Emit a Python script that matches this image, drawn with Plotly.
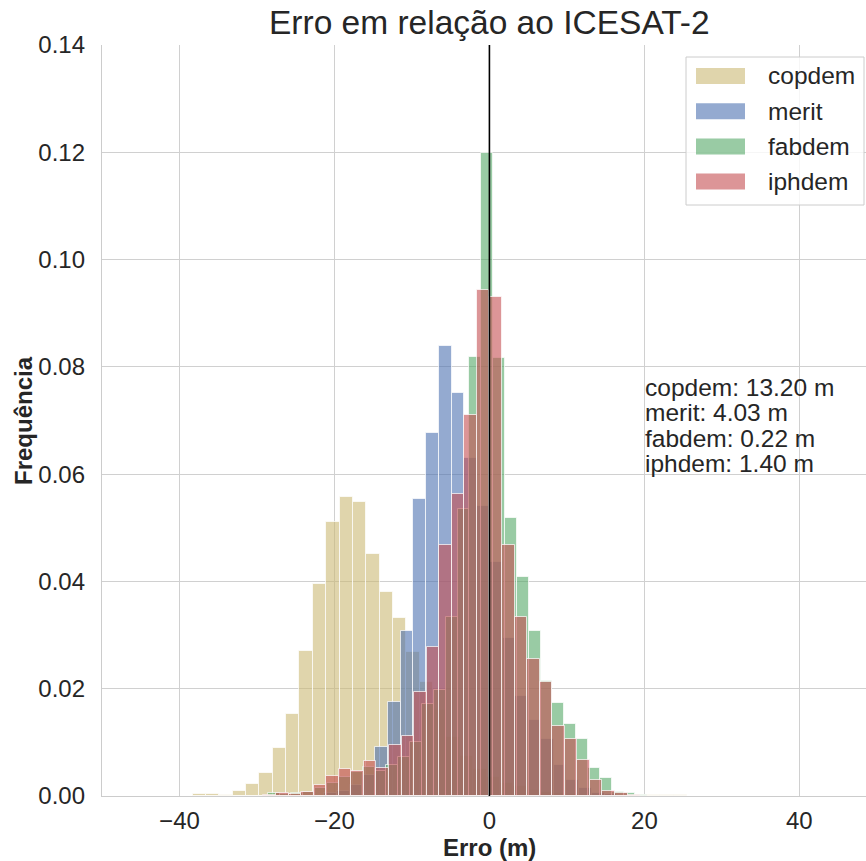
import numpy as np
import plotly.graph_objects as go

# ---------------- data ----------------
series_names = ["copdem", "merit", "fabdem", "iphdem"]
series_colors = ["#CCB974", "#4C72B0", "#55A868", "#C44E52"]

# histogram bins: first left edge and bin width per series
copdem_start, copdem_width = -38.32, 1.725
copdem_freq = [0.0004, 0.0004, 0.0001, 0.0009, 0.0023, 0.0043, 0.0089, 0.0152,
               0.0270, 0.0396, 0.0510, 0.0558, 0.0548, 0.0452, 0.0380, 0.0332,
               0.0268, 0.0212, 0.0160, 0.0110, 0.0075, 0.0050, 0.0035, 0.0025,
               0.0018, 0.0012, 0.0008, 0.0005, 0.0003, 0.0002, 0.0002, 0.0001,
               0.0001, 0.0001, 0.0001, 0.0001, 0.0001]

merit_start, merit_width = -21.33, 1.645
merit_freq = [0.0005, 0.0010, 0.0020, 0.0040, 0.0092, 0.0176, 0.0307, 0.0553,
              0.0677, 0.0839, 0.0751, 0.0630, 0.0540, 0.0437, 0.0295, 0.0186,
              0.0141, 0.0106, 0.0058, 0.0030, 0.0015, 0.0006, 0.0003]

fabdem_start, fabdem_width = -28.61, 1.531
fabdem_freq = [0.0005, 0.0003, 0.0005, 0.0008, 0.0015, 0.0025, 0.0035, 0.0045,
               0.0054, 0.0047, 0.0057, 0.0073, 0.0100, 0.0172, 0.0197, 0.0334,
               0.0535, 0.0819, 0.1198, 0.0816, 0.0518, 0.0408, 0.0308, 0.0214,
               0.0173, 0.0135, 0.0106, 0.0052, 0.0034, 0.0008, 0.0005, 0.0002]

iphdem_start, iphdem_width = -29.16, 1.62
iphdem_freq = [0.0002, 0.0006, 0.0003, 0.0007, 0.0020, 0.0037, 0.0050, 0.0046,
               0.0065, 0.0052, 0.0096, 0.0111, 0.0193, 0.0278, 0.0467, 0.0563,
               0.0711, 0.0944, 0.0931, 0.0468, 0.0334, 0.0256, 0.0212, 0.0131,
               0.0106, 0.0068, 0.0029, 0.0010, 0.0005, 0.0002]

rmse_labels = ["copdem: 13.20 m", "merit: 4.03 m", "fabdem: 0.22 m", "iphdem: 1.40 m"]

x_ticks = [-40, -20, 0, 20, 40]
x_tick_text = ["\u221240", "\u221220", "0", "20", "40"]
y_ticks = [0.00, 0.02, 0.04, 0.06, 0.08, 0.10, 0.12, 0.14]

title_text = "Erro em relação ao ICESAT-2"
x_title = "Erro (m)"
y_title = "Frequência"

# ---------------- figure ----------------
W, H = 866, 861
ML, MR, MT, MB = 102, 0, 45, 65
PW, PH = W - ML - MR, H - MT - MB


def px(xp):
    return (xp - ML) / PW


def py(yp):
    return (H - MB - yp) / PH


def rgba(hexc, a):
    hexc = hexc.lstrip("#")
    r, g, b = int(hexc[0:2], 16), int(hexc[2:4], 16), int(hexc[4:6], 16)
    return f"rgba({r},{g},{b},{a})"


FONT = "Liberation Sans, Arial, Helvetica, sans-serif"
TXT = "#262626"
ALPHA = 0.6

fig = go.Figure()
specs = [(copdem_start, copdem_width, copdem_freq),
         (merit_start, merit_width, merit_freq),
         (fabdem_start, fabdem_width, fabdem_freq),
         (iphdem_start, iphdem_width, iphdem_freq)]
for name, col, (start, w, vals) in zip(series_names, series_colors, specs):
    vals = np.asarray(vals)
    centers = start + (np.arange(len(vals)) + 0.5) * w
    fig.add_trace(go.Bar(
        x=centers, y=vals, width=w, name=name, showlegend=False,
        marker=dict(color=rgba(col, ALPHA),
                    line=dict(color="rgba(255,255,255,0.7)", width=1)),
    ))

fig.update_layout(
    width=W, height=H, autosize=False,
    margin=dict(l=ML, r=MR, t=MT, b=MB, pad=0),
    barmode="overlay", bargap=0,
    plot_bgcolor="white", paper_bgcolor="white",
    font=dict(family=FONT, size=24, color=TXT),
    xaxis=dict(range=[-50, 48.6], tickvals=x_ticks, ticktext=x_tick_text,
               showgrid=True, gridcolor="#d0d0d0", gridwidth=1.3,
               zeroline=False, showline=True, linecolor="#cccccc", linewidth=1.3,
               ticks="outside", ticklen=3, tickcolor="rgba(0,0,0,0)",
               tickfont=dict(size=24, color=TXT, family=FONT)),
    yaxis=dict(range=[0, 0.14], tickvals=y_ticks, tickformat=".2f",
               showgrid=True, gridcolor="#d0d0d0", gridwidth=1.3,
               zeroline=False, showline=True, linecolor="#cccccc", linewidth=1.3,
               ticks="outside", ticklen=11, tickcolor="rgba(0,0,0,0)",
               tickfont=dict(size=24, color=TXT, family=FONT)),
)

# vertical reference line at zero error
fig.add_shape(type="line", xref="x", yref="paper", x0=0, x1=0, y0=0, y1=1,
              line=dict(color="black", width=1.6), layer="above")

# title and axis titles
fig.add_annotation(text=title_text, xref="paper", yref="paper",
                   x=px(489), y=py(22), xanchor="center", yanchor="middle",
                   showarrow=False, font=dict(size=33.5, color=TXT, family=FONT))
fig.add_annotation(text=f"<b>{x_title}</b>", xref="paper", yref="paper",
                   x=px(489), y=py(848), xanchor="center", yanchor="middle",
                   showarrow=False, font=dict(size=24, color=TXT, family=FONT))
fig.add_annotation(text=f"<b>{y_title}</b>", xref="paper", yref="paper",
                   x=px(23), y=py(421), xanchor="center", yanchor="middle",
                   textangle=-90, showarrow=False,
                   font=dict(size=24, color=TXT, family=FONT))

# RMSE text block
for i, t in enumerate(rmse_labels):
    fig.add_annotation(text=t, xref="paper", yref="paper",
                       x=px(643), y=py(387 + i * 25.6), xanchor="left", yanchor="middle",
                       showarrow=False, font=dict(size=24.5, color=TXT, family=FONT))

# legend (drawn manually to mimic wide patches)
fig.add_shape(type="rect", xref="paper", yref="paper",
              x0=px(686), x1=px(864), y0=py(205), y1=py(57),
              fillcolor="rgba(255,255,255,0.8)", line=dict(color="#cccccc", width=1),
              layer="above")
for i, (name, col) in enumerate(zip(series_names, series_colors)):
    yc = 76 + i * 35.2
    fig.add_shape(type="rect", xref="paper", yref="paper",
                  x0=px(696), x1=px(745), y0=py(yc + 8), y1=py(yc - 8),
                  fillcolor=rgba(col, ALPHA), line=dict(width=0), layer="above")
    fig.add_annotation(text=name, xref="paper", yref="paper",
                       x=px(766), y=py(yc), xanchor="left", yanchor="middle",
                       showarrow=False, font=dict(size=24.5, color=TXT, family=FONT))

fig.write_html("out.html")
